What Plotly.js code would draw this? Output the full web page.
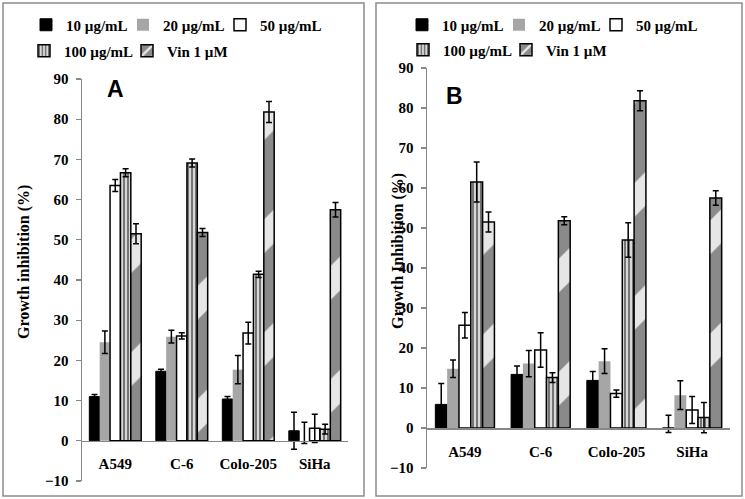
<!DOCTYPE html>
<html>
<head>
<meta charset="utf-8">
<script src="https://cdn.plot.ly/plotly-3.0.1.min.js"></script>
<style>html,body{margin:0;padding:0;background:#fff;}#chart{width:745px;height:499px;}</style>
</head>
<body>
<div id="chart"></div>
<script>
// ---------- data ----------
const categories = ['A549', 'C-6', 'Colo-205', 'SiHa'];
const seriesNames = ['10 µg/mL', '20 µg/mL', '50 µg/mL', '100 µg/mL', 'Vin 1 µM'];

// Panel A
const A_10 = [11.0, 17.3, 10.4, 2.5];
const A_10_err = [0.5, 0.5, 0.6, 4.6];
const A_20 = [24.5, 25.9, 17.7, 0.0];
const A_20_err = [2.8, 1.6, 3.5, 4.6];
const A_20_errMinus = [2.8, 1.6, 3.5, 0.7];
const A_50 = [63.5, 26.1, 26.8, 3.1];
const A_50_err = [1.5, 0.8, 2.7, 3.5];
const A_100 = [66.7, 69.1, 41.4, 2.9];
const A_100_err = [1.0, 1.0, 0.8, 1.2];
const A_vin = [51.5, 51.8, 81.8, 57.5];
const A_vin_err = [2.5, 1.0, 2.6, 1.8];

// Panel B
const B_10 = [5.9, 13.4, 11.9, 0.0];
const B_10_err = [5.2, 2.1, 2.2, 3.2];
const B_10_errMinus = [5.2, 2.1, 2.2, 1.1];
const B_20 = [14.8, 16.1, 16.7, 8.2];
const B_20_err = [2.2, 3.3, 3.1, 3.6];
const B_50 = [25.7, 19.5, 8.6, 4.5];
const B_50_err = [3.2, 4.3, 0.9, 3.4];
const B_100 = [61.5, 12.6, 47.0, 2.6];
const B_100_err = [5.0, 1.2, 4.3, 3.8];
const B_vin = [51.5, 51.8, 81.8, 57.5];
const B_vin_err = [2.5, 1.0, 2.5, 1.8];

const yTickVals = [-10, 0, 10, 20, 30, 40, 50, 60, 70, 80, 90];

// ---------- styles ----------
const serif = "'Liberation Serif', 'Times New Roman', serif";
const axisGray = '#878787';
const styles = [
  {color: '#000000', line: {color: '#000', width: 1}},
  {color: '#a6a6a6', line: {color: '#a6a6a6', width: 0}},
  {color: '#ffffff', line: {color: '#000', width: 1.5}},
  {color: '#d0d0d0', line: {color: '#000', width: 1.5},
   pattern: {shape: '|', fgcolor: '#6a6a6a', bgcolor: '#d8d8d8', size: 4, solidity: 0.45}},
  {color: '#9a9a9a', line: {color: '#000', width: 1.5},
   pattern: {shape: '/', fgcolor: '#e6e6e6', bgcolor: '#8a8a8a', size: 80, solidity: 0.3}}
];

function mkErr(plus, minus) {
  const e = {type: 'data', array: plus, color: '#000', thickness: 1.5, width: 3, visible: true};
  if (minus) { e.symmetric = false; e.arrayminus = minus; }
  return e;
}

function mkTrace(i, y, err, errMinus, xa, ya, legendId) {
  return {
    type: 'bar', x: categories, y: y, name: seriesNames[i],
    xaxis: xa, yaxis: ya, legend: legendId,
    marker: styles[i],
    error_y: mkErr(err, errMinus),
    hoverinfo: 'x+y+name'
  };
}

const data = [
  mkTrace(0, A_10, A_10_err, null, 'x', 'y', 'legend'),
  mkTrace(1, A_20, A_20_err, A_20_errMinus, 'x', 'y', 'legend2'),
  mkTrace(2, A_50, A_50_err, null, 'x', 'y', 'legend3'),
  mkTrace(3, A_100, A_100_err, null, 'x', 'y', 'legend4'),
  mkTrace(4, A_vin, A_vin_err, null, 'x', 'y', 'legend5'),
  mkTrace(0, B_10, B_10_err, B_10_errMinus, 'x2', 'y2', 'legend6'),
  mkTrace(1, B_20, B_20_err, null, 'x2', 'y2', 'legend7'),
  mkTrace(2, B_50, B_50_err, null, 'x2', 'y2', 'legend8'),
  mkTrace(3, B_100, B_100_err, null, 'x2', 'y2', 'legend9'),
  mkTrace(4, B_vin, B_vin_err, null, 'x2', 'y2', 'legend10')
];

const W = 745, H = 499;
const px = v => v / W;
const py = v => 1 - v / H;

function xAxis(d0, d1, pos) {
  return {
    domain: [px(d0), px(d1)], anchor: 'free', position: pos, type: 'category',
    showline: true, linecolor: axisGray, linewidth: 1.5, ticks: '', showgrid: false, zeroline: false,
    tickfont: {family: serif, size: 15, color: '#000', weight: 700}, ticklabelstandoff: 9,
    fixedrange: true
  };
}
function yAxis(top, bottom, anchor) {
  return {
    domain: [py(bottom), py(top)], range: [-10, 90], anchor: anchor,
    tickvals: yTickVals, ticks: 'outside', ticklen: 5, tickcolor: axisGray, tickwidth: 1.2,
    showline: true, linecolor: axisGray, linewidth: 1.5, showgrid: false, zeroline: false,
    tickfont: {family: serif, size: 15, color: '#000', weight: 700}, ticklabelstandoff: 4,
    fixedrange: true
  };
}

// axis geometry in pixels (y of the 90 and -10 ticks)
const A_top = 79, A_bot = 481, B_top = 68, B_bot = 468;
const A_zero = py(A_bot) + 0.1 * (py(A_top) - py(A_bot));
const B_zero = py(B_bot) + 0.1 * (py(B_top) - py(B_bot));

// one legend per entry so each entry sits where the reference has it
function legendAt(textX, ypx) {
  return {
    orientation: 'h', x: px(textX - 40), y: py(ypx), xanchor: 'left', yanchor: 'middle',
    font: {family: serif, size: 15, color: '#000', weight: 700},
    bgcolor: 'rgba(0,0,0,0)', borderwidth: 0, itemwidth: 30,
    itemclick: false, itemdoubleclick: false
  };
}

const annFont = (size, fam) => ({family: fam || serif, size: size, color: '#000', weight: 700});

const layout = {
  width: W, height: H,
  margin: {l: 0, r: 0, t: 0, b: 0},
  paper_bgcolor: '#fff', plot_bgcolor: 'rgba(0,0,0,0)',
  barmode: 'group', bargap: 0.22, bargroupgap: 0,
  showlegend: true,
  xaxis: xAxis(82, 348, A_zero),
  yaxis: yAxis(A_top, A_bot, 'x'),
  xaxis2: xAxis(427, 730, B_zero),
  yaxis2: yAxis(B_top, B_bot, 'x2'),
  legend: legendAt(66, 25),
  legend2: legendAt(163, 25),
  legend3: legendAt(260, 25),
  legend4: legendAt(64, 51),
  legend5: legendAt(167, 51),
  legend6: legendAt(442, 25),
  legend7: legendAt(539, 25),
  legend8: legendAt(636, 25),
  legend9: legendAt(443, 50),
  legend10: legendAt(546, 50),
  shapes: [
    {type: 'rect', xref: 'paper', yref: 'paper', x0: px(3), x1: px(364), y0: py(496), y1: py(3),
     line: {color: '#8c8c8c', width: 1.5}, fillcolor: 'rgba(0,0,0,0)', layer: 'below'},
    {type: 'rect', xref: 'paper', yref: 'paper', x0: px(376), x1: px(742), y0: py(496), y1: py(3),
     line: {color: '#8c8c8c', width: 1.5}, fillcolor: 'rgba(0,0,0,0)', layer: 'below'}
  ],
  annotations: [
    {text: 'A', xref: 'paper', yref: 'paper', x: px(115), y: py(89), xanchor: 'center', yanchor: 'middle',
     showarrow: false, font: annFont(23, "'Liberation Sans', Arial, sans-serif")},
    {text: 'B', xref: 'paper', yref: 'paper', x: px(454), y: py(96), xanchor: 'center', yanchor: 'middle',
     showarrow: false, font: annFont(23, "'Liberation Sans', Arial, sans-serif")},
    {text: 'Growth inhibition (%)', xref: 'paper', yref: 'paper', x: px(24), y: py(262),
     xanchor: 'center', yanchor: 'middle', textangle: -90, showarrow: false, font: annFont(16)},
    {text: 'Growth Inhibition (%)', xref: 'paper', yref: 'paper', x: px(398), y: py(251),
     xanchor: 'center', yanchor: 'middle', textangle: -90, showarrow: false, font: annFont(16)}
  ]
};

Plotly.newPlot('chart', data, layout, {displayModeBar: false, staticPlot: true});
</script>
</body>
</html>
